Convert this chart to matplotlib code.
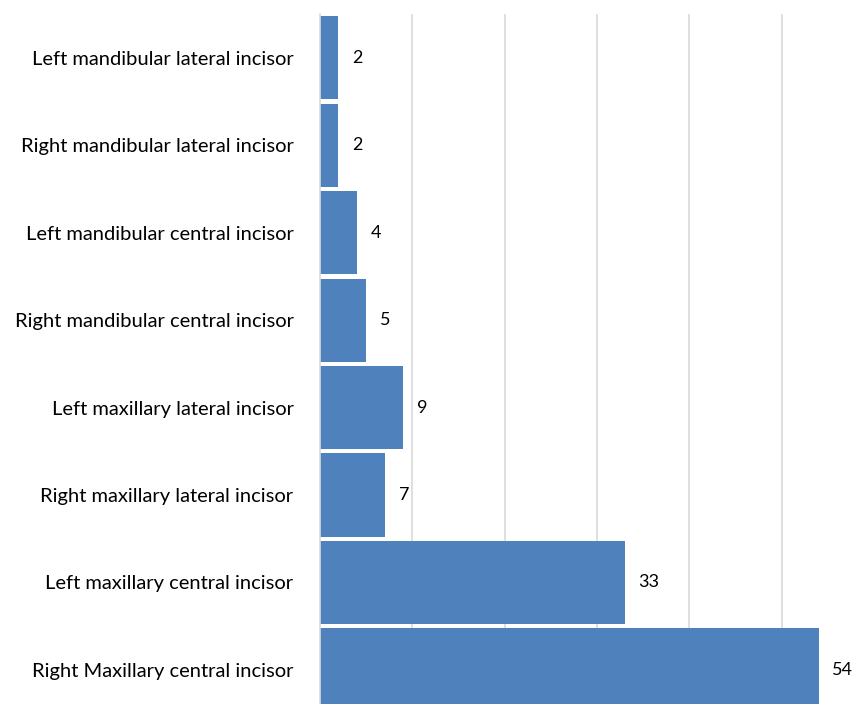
import matplotlib
matplotlib.use("Agg")
import matplotlib.pyplot as plt

teeth = [
    "Left mandibular lateral incisor",
    "Right mandibular lateral incisor",
    "Left mandibular central incisor",
    "Right mandibular central incisor",
    "Left maxillary lateral incisor",
    "Right maxillary lateral incisor",
    "Left maxillary central incisor",
    "Right Maxillary central incisor",
]
counts = [2, 2, 4, 5, 9, 7, 33, 54]

plt.rcParams["font.family"] = ["Lato", "DejaVu Sans"]

W, H = 861, 704
fig = plt.figure(figsize=(W / 100, H / 100), dpi=100)
ax = fig.add_axes([320 / W, 0, 1 - 320 / W, (704 - 14) / H])

ypos = list(range(len(teeth)))
ax.barh(ypos, counts, height=0.95, color="#4F81BD", zorder=2)
for y, v in zip(ypos, counts):
    ax.annotate(str(v), xy=(v, y), xytext=(10, 0), textcoords="offset points",
                va="center", ha="left", fontsize=13, color="#000000")

ax.set_xlim(0, 58.6)
ax.set_ylim(7.39, -0.5)
ax.set_xticks([10, 20, 30, 40, 50])
ax.xaxis.grid(True, color="#D9D9D9", linewidth=1.2, zorder=0)
ax.tick_params(axis="x", bottom=False, labelbottom=False)
ax.set_yticks(ypos)
ax.set_yticklabels(teeth, fontsize=14.5)
ax.tick_params(axis="y", length=0, pad=19)
for s in ["top", "right", "bottom"]:
    ax.spines[s].set_visible(False)
ax.spines["left"].set_color("#D9D9D9")
ax.spines["left"].set_linewidth(1.2)

fig.savefig("out.png", dpi=100)
